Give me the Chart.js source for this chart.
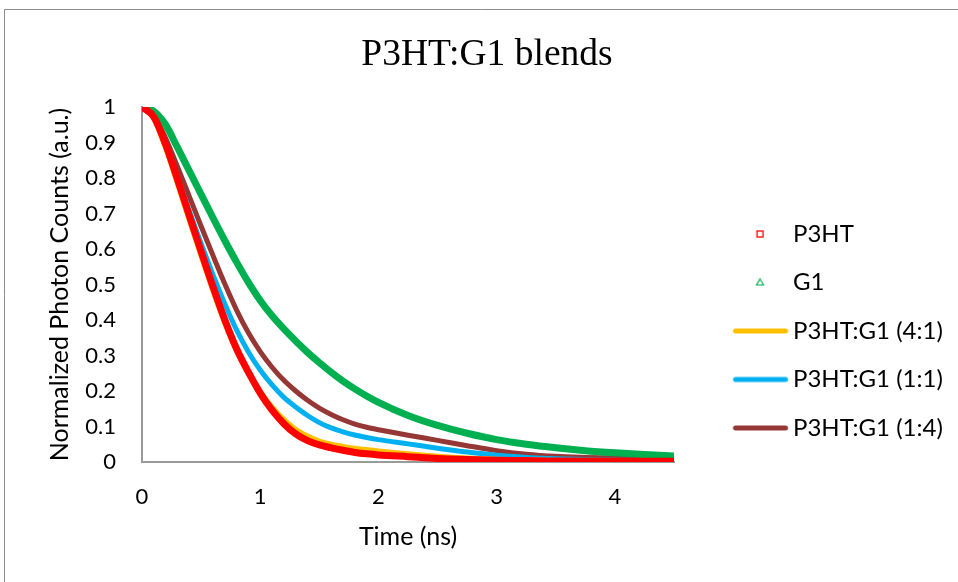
<!DOCTYPE html>
<html><head><meta charset="utf-8">
<script src="https://cdn.jsdelivr.net/npm/chart.js@4.4.1/dist/chart.umd.min.js"></script>
<style>html,body{margin:0;padding:0;background:#fff;overflow:hidden}#wrap{position:relative;width:958px;height:582px}</style>
</head><body><div id="wrap"><canvas id="c" width="958" height="582"></canvas></div>
<script>
// ---- data ----
const timeNs = [0,0.1,0.2,0.3,0.4,0.5,0.6,0.7,0.8,0.9,1.0,1.1,1.2,1.3,1.4,1.5,1.6,1.7,1.8,1.9,2.0,2.25,2.5,2.75,3.0,3.25,3.5,3.75,4.0,4.25,4.5];
const p3ht    = [1.000,0.972,0.894,0.796,0.694,0.593,0.494,0.401,0.319,0.253,0.194,0.146,0.108,0.079,0.060,0.048,0.040,0.033,0.027,0.023,0.020,0.015,0.010,0.007,0.005,0.004,0.003,0.003,0.002,0.002,0.002];
const g1      = [1.000,0.988,0.950,0.886,0.820,0.754,0.688,0.624,0.563,0.506,0.455,0.412,0.375,0.341,0.309,0.280,0.253,0.228,0.206,0.186,0.168,0.131,0.103,0.081,0.063,0.050,0.040,0.032,0.026,0.021,0.017];
const blend41 = [1.000,0.967,0.884,0.784,0.681,0.580,0.482,0.391,0.313,0.251,0.199,0.155,0.120,0.092,0.073,0.059,0.050,0.044,0.039,0.035,0.031,0.023,0.016,0.011,0.008,0.006,0.004,0.003,0.003,0.002,0.002];
const blend11 = [1.000,0.972,0.895,0.802,0.707,0.615,0.528,0.446,0.372,0.310,0.259,0.217,0.182,0.155,0.131,0.111,0.096,0.085,0.076,0.069,0.063,0.051,0.039,0.028,0.019,0.013,0.009,0.007,0.005,0.004,0.003];
const blend14 = [1.000,0.976,0.912,0.832,0.748,0.664,0.582,0.502,0.428,0.364,0.311,0.267,0.230,0.200,0.174,0.152,0.134,0.119,0.107,0.098,0.091,0.0755,0.061,0.046,0.032,0.022,0.016,0.013,0.011,0.009,0.008];
const seriesNames = ['P3HT','G1','P3HT:G1 (4:1)','P3HT:G1 (1:1)','P3HT:G1 (1:4)'];
const xTickLabels = ['0','1','2','3','4'];
const yTickLabels = ['0','0.1','0.2','0.3','0.4','0.5','0.6','0.7','0.8','0.9','1'];
const chartTitle = 'P3HT:G1 blends';
const xTitle = 'Time (ns)';
const yTitle = 'Normalized Photon Counts (a.u.)';

// ---- styling / layout ----
const W = 958;
const colors = ['#FF0000','#00B050','#FFC000','#00B0F0','#953735'];
const widths = [7,7,5,5,5];
const FONT = 'Lato';
const PLOT_L = 142, PLOT_R = 674;      // chart area left / right
const TITLE_CX = 487;                   // chart title centre
const YTITLE_CX = 60;                   // y-axis title centre
const LEG_FS = 24, LEG_PAD = 24.5;
const LEG_TEXT_X = 793, LEG_LINE_X0 = 733, LEG_LINE_X1 = 788, LEG_MARK_X = 760;
const LEG_BOX = LEG_TEXT_X - PLOT_R - LEG_PAD - LEG_FS/2;

const mctx=document.createElement('canvas').getContext('2d');
mctx.font='normal '+LEG_FS+'px '+FONT;
const textW=Math.max(...seriesNames.map(n=>mctx.measureText(n).width));
const legendW=LEG_PAD+LEG_BOX+LEG_FS/2+textW+10;
const PAD_R=W-PLOT_R-legendW;
const PAD_L=PAD_R+(2*TITLE_CX-W);

// legend icons
const iconC=PLOT_R+LEG_PAD+LEG_BOX/2;
const ICON_W=2*Math.ceil(Math.max(iconC-LEG_LINE_X0,LEG_LINE_X1-iconC))+4;
const iconOff=iconC-ICON_W/2;
function icon(kind,color){
  const c=document.createElement('canvas'); c.width=ICON_W; c.height=14;
  const g=c.getContext('2d'); g.strokeStyle=color;
  const m=LEG_MARK_X-iconOff;
  if(kind==='line'){ g.lineWidth=5; g.lineCap='round'; g.beginPath(); g.moveTo(LEG_LINE_X0+2.5-iconOff,7); g.lineTo(LEG_LINE_X1-2.5-iconOff,7); g.stroke(); }
  else if(kind==='rect'){ g.lineWidth=1.3; g.strokeRect(m-3,4,6,6); }
  else { g.lineWidth=1.2; g.beginPath(); g.moveTo(m,3.5); g.lineTo(m+3.5,9.5); g.lineTo(m-3.5,9.5); g.closePath(); g.stroke(); }
  return c;
}
const icons=[icon('rect',colors[0]),icon('tri',colors[1]),icon('line',colors[2]),icon('line',colors[3]),icon('line',colors[4])];

const frame={id:'frame',
  beforeDraw(ch){const g=ch.ctx;g.save();g.fillStyle='#fff';g.fillRect(0,0,958,582);
    g.strokeStyle='#8c8c8c';g.lineWidth=1;g.beginPath();g.moveTo(4.5,582);g.lineTo(4.5,9.5);g.lineTo(958,9.5);g.stroke();g.restore();}
};

const datasets=[p3ht,g1,blend41,blend11,blend14].map((arr,i)=>({
  label:seriesNames[i], data:timeNs.map((t,j)=>({x:t,y:arr[j]})), borderColor:colors[i], backgroundColor:colors[i],
  borderWidth:widths[i], pointRadius:0, fill:false, cubicInterpolationMode:'monotone'
}));

new Chart(document.getElementById('c'),{
  type:'line',
  data:{datasets},
  plugins:[frame],
  options:{
    responsive:false, animation:false, devicePixelRatio:1,
    layout:{padding:{left:PAD_L,top:10,right:PAD_R,bottom:0}},
    plugins:{
      tooltip:{enabled:false},
      title:{display:true,text:chartTitle,color:'#000',font:{family:'Liberation Serif',size:37.5,weight:'normal'},padding:{top:22.5,bottom:29.5}},
      legend:{position:'right',align:'start',maxWidth:400,
        title:{display:true,text:' ',font:{size:10},padding:{top:175.5,bottom:0}},
        labels:{usePointStyle:true,pointStyleWidth:LEG_BOX,padding:LEG_PAD,color:'#000',font:{family:FONT,size:LEG_FS},
          generateLabels:(ch)=>ch.data.datasets.map((d,i)=>({text:d.label,pointStyle:icons[i],fillStyle:colors[i],strokeStyle:colors[i],lineWidth:0,hidden:false,datasetIndex:i,fontColor:'#000'}))}}
    },
    scales:{
      x:{type:'linear',min:0,max:timeNs[timeNs.length-1],
        ticks:{stepSize:1,includeBounds:false,padding:21.8,color:'#000',font:{family:FONT,size:22},
          callback:(v)=>{const k=Math.round(v);return Math.abs(v-k)<1e-6&&k<xTickLabels.length?xTickLabels[k]:'';}},
        grid:{display:false,drawTicks:false},
        border:{display:true,color:'#9a9a9a',width:2},
        title:{display:true,text:xTitle,color:'#000',font:{family:FONT,size:25},padding:{top:0,bottom:30}},
        afterFit:(s)=>{s.height=120;}
      },
      y:{type:'linear',min:0,max:1,
        ticks:{stepSize:0.1,padding:26,color:'#000',font:{family:FONT,size:22},
          callback:(v)=>{const k=Math.round(v*10);return yTickLabels[k]??'';}},
        grid:{display:false,drawTicks:false},
        border:{display:true,color:'#9a9a9a',width:2},
        title:{display:true,text:yTitle,color:'#000',font:{family:FONT,size:25},padding:{top:YTITLE_CX-PAD_L-15,bottom:0}},
        afterFit:(s)=>{s.width=PLOT_L-PAD_L;}
      }
    }
  }
});
</script></body></html>
